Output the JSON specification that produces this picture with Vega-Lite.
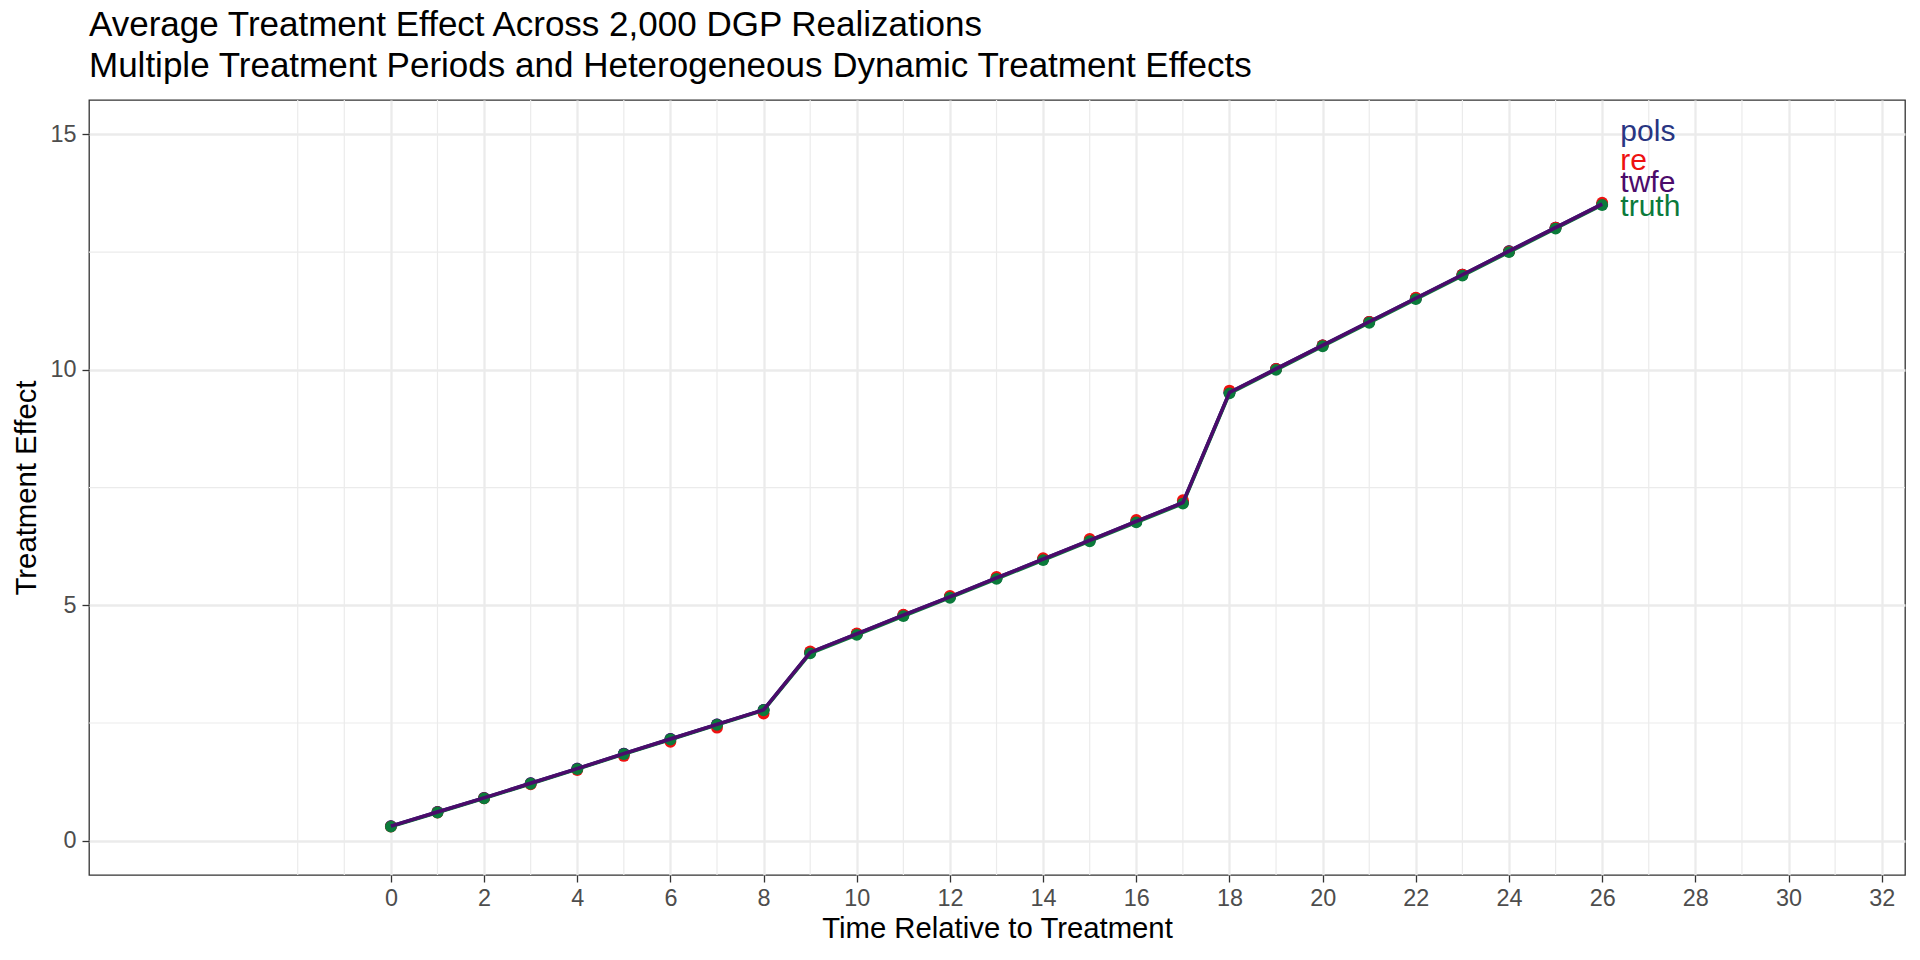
{
  "$schema": "https://vega.github.io/schema/vega-lite/v6.json",
  "width": 1816,
  "height": 775,
  "autosize": {"type": "none"},
  "padding": {"left": 89, "top": 100, "right": 15, "bottom": 85},
  "background": "white",
  "config": {
    "font": "Liberation Sans",
    "view": {"stroke": "#333333", "strokeWidth": 1.3},
    "axis": {
      "domain": false,
      "grid": true,
      "gridColor": "#ebebeb",
      "gridWidth": 2.3,
      "tickColor": "#333333",
      "tickWidth": 1.3,
      "tickSize": 7,
      "labelFont": "Liberation Sans",
      "labelFontSize": 23.4,
      "labelColor": "#4d4d4d",
      "titleFont": "Liberation Sans",
      "titleFontSize": 29.3,
      "titleFontWeight": "normal",
      "titleColor": "#000000"
    }
  },
  "title": {
    "text": ["Average Treatment Effect Across 2,000 DGP Realizations", "Multiple Treatment Periods and Heterogeneous Dynamic Treatment Effects"],
    "anchor": "start",
    "frame": "group",
    "fontSize": 35,
    "fontWeight": "normal",
    "font": "Liberation Sans",
    "color": "#000000",
    "lineHeight": 41,
    "offset": 15
  },
  "datasets": {
    "est": [
      {"t": 0, "model": "pols", "value": 0.31}, {"t": 1, "model": "pols", "value": 0.61}, {"t": 2, "model": "pols", "value": 0.91}, {"t": 3, "model": "pols", "value": 1.22}, {"t": 4, "model": "pols", "value": 1.53}, {"t": 5, "model": "pols", "value": 1.85}, {"t": 6, "model": "pols", "value": 2.16}, {"t": 7, "model": "pols", "value": 2.47}, {"t": 8, "model": "pols", "value": 2.78}, {"t": 9, "model": "pols", "value": 4.00}, {"t": 10, "model": "pols", "value": 4.39}, {"t": 11, "model": "pols", "value": 4.79}, {"t": 12, "model": "pols", "value": 5.18}, {"t": 13, "model": "pols", "value": 5.58}, {"t": 14, "model": "pols", "value": 5.98}, {"t": 15, "model": "pols", "value": 6.38}, {"t": 16, "model": "pols", "value": 6.78}, {"t": 17, "model": "pols", "value": 7.18}, {"t": 18, "model": "pols", "value": 9.52}, {"t": 19, "model": "pols", "value": 10.02}, {"t": 20, "model": "pols", "value": 10.52}, {"t": 21, "model": "pols", "value": 11.02}, {"t": 22, "model": "pols", "value": 11.52}, {"t": 23, "model": "pols", "value": 12.02}, {"t": 24, "model": "pols", "value": 12.52}, {"t": 25, "model": "pols", "value": 13.02}, {"t": 26, "model": "pols", "value": 13.52},
      {"t": 0, "model": "twfe", "value": 0.31}, {"t": 1, "model": "twfe", "value": 0.61}, {"t": 2, "model": "twfe", "value": 0.91}, {"t": 3, "model": "twfe", "value": 1.22}, {"t": 4, "model": "twfe", "value": 1.53}, {"t": 5, "model": "twfe", "value": 1.85}, {"t": 6, "model": "twfe", "value": 2.16}, {"t": 7, "model": "twfe", "value": 2.47}, {"t": 8, "model": "twfe", "value": 2.78}, {"t": 9, "model": "twfe", "value": 4.00}, {"t": 10, "model": "twfe", "value": 4.39}, {"t": 11, "model": "twfe", "value": 4.79}, {"t": 12, "model": "twfe", "value": 5.18}, {"t": 13, "model": "twfe", "value": 5.58}, {"t": 14, "model": "twfe", "value": 5.98}, {"t": 15, "model": "twfe", "value": 6.38}, {"t": 16, "model": "twfe", "value": 6.78}, {"t": 17, "model": "twfe", "value": 7.18}, {"t": 18, "model": "twfe", "value": 9.52}, {"t": 19, "model": "twfe", "value": 10.02}, {"t": 20, "model": "twfe", "value": 10.52}, {"t": 21, "model": "twfe", "value": 11.02}, {"t": 22, "model": "twfe", "value": 11.52}, {"t": 23, "model": "twfe", "value": 12.02}, {"t": 24, "model": "twfe", "value": 12.52}, {"t": 25, "model": "twfe", "value": 13.02}, {"t": 26, "model": "twfe", "value": 13.52},
      {"t": 0, "model": "re", "value": 0.30}, {"t": 1, "model": "re", "value": 0.60}, {"t": 2, "model": "re", "value": 0.90}, {"t": 3, "model": "re", "value": 1.20}, {"t": 4, "model": "re", "value": 1.50}, {"t": 5, "model": "re", "value": 1.80}, {"t": 6, "model": "re", "value": 2.10}, {"t": 7, "model": "re", "value": 2.40}, {"t": 8, "model": "re", "value": 2.70}, {"t": 9, "model": "re", "value": 4.02}, {"t": 10, "model": "re", "value": 4.40}, {"t": 11, "model": "re", "value": 4.80}, {"t": 12, "model": "re", "value": 5.20}, {"t": 13, "model": "re", "value": 5.60}, {"t": 14, "model": "re", "value": 6.00}, {"t": 15, "model": "re", "value": 6.41}, {"t": 16, "model": "re", "value": 6.81}, {"t": 17, "model": "re", "value": 7.23}, {"t": 18, "model": "re", "value": 9.56}, {"t": 19, "model": "re", "value": 10.02}, {"t": 20, "model": "re", "value": 10.52}, {"t": 21, "model": "re", "value": 11.02}, {"t": 22, "model": "re", "value": 11.53}, {"t": 23, "model": "re", "value": 12.02}, {"t": 24, "model": "re", "value": 12.51}, {"t": 25, "model": "re", "value": 13.02}, {"t": 26, "model": "re", "value": 13.55},
      {"t": 0, "model": "truth", "value": 0.30}, {"t": 1, "model": "truth", "value": 0.60}, {"t": 2, "model": "truth", "value": 0.90}, {"t": 3, "model": "truth", "value": 1.21}, {"t": 4, "model": "truth", "value": 1.52}, {"t": 5, "model": "truth", "value": 1.84}, {"t": 6, "model": "truth", "value": 2.15}, {"t": 7, "model": "truth", "value": 2.46}, {"t": 8, "model": "truth", "value": 2.77}, {"t": 9, "model": "truth", "value": 3.98}, {"t": 10, "model": "truth", "value": 4.37}, {"t": 11, "model": "truth", "value": 4.77}, {"t": 12, "model": "truth", "value": 5.16}, {"t": 13, "model": "truth", "value": 5.56}, {"t": 14, "model": "truth", "value": 5.96}, {"t": 15, "model": "truth", "value": 6.36}, {"t": 16, "model": "truth", "value": 6.76}, {"t": 17, "model": "truth", "value": 7.16}, {"t": 18, "model": "truth", "value": 9.50}, {"t": 19, "model": "truth", "value": 10.00}, {"t": 20, "model": "truth", "value": 10.50}, {"t": 21, "model": "truth", "value": 11.00}, {"t": 22, "model": "truth", "value": 11.50}, {"t": 23, "model": "truth", "value": 12.00}, {"t": 24, "model": "truth", "value": 12.50}, {"t": 25, "model": "truth", "value": 13.00}, {"t": 26, "model": "truth", "value": 13.50}
    ],
    "labels": [
      {"model": "pols", "x": 26.39, "y": 14.85},
      {"model": "re", "x": 26.39, "y": 14.25},
      {"model": "twfe", "x": 26.39, "y": 13.78},
      {"model": "truth", "x": 26.39, "y": 13.27}
    ],
    "xminor": [{"v": -2}, {"v": -1}, {"v": 1}, {"v": 3}, {"v": 5}, {"v": 7}, {"v": 9}, {"v": 11}, {"v": 13}, {"v": 15}, {"v": 17}, {"v": 19}, {"v": 21}, {"v": 23}, {"v": 25}, {"v": 27}, {"v": 29}, {"v": 31}],
    "yminor": [{"v": 2.5}, {"v": 7.5}, {"v": 12.5}]
  },
  "layer": [
    {
      "data": {"name": "xminor"},
      "mark": {"type": "rule", "color": "#ebebeb", "strokeWidth": 1.2},
      "encoding": {"x": {"field": "v", "type": "quantitative"}}
    },
    {
      "data": {"name": "yminor"},
      "mark": {"type": "rule", "color": "#ebebeb", "strokeWidth": 1.2},
      "encoding": {"y": {"field": "v", "type": "quantitative"}}
    },
    {
      "data": {"name": "est"},
      "mark": {"type": "point", "filled": true, "shape": "circle", "size": 140, "opacity": 1},
      "encoding": {
        "x": {"field": "t", "type": "quantitative"},
        "y": {"field": "value", "type": "quantitative"},
        "color": {"field": "model", "type": "nominal", "legend": null}
      }
    },
    {
      "data": {"name": "est"},
      "transform": [{"filter": "datum.model === 'pols'"}],
      "mark": {"type": "line", "strokeWidth": 3.5},
      "encoding": {
        "x": {"field": "t", "type": "quantitative"},
        "y": {"field": "value", "type": "quantitative"},
        "color": {"field": "model", "type": "nominal", "legend": null}
      }
    },
    {
      "data": {"name": "est"},
      "transform": [{"filter": "datum.model === 'truth'"}],
      "mark": {"type": "line", "strokeWidth": 3.5},
      "encoding": {
        "x": {"field": "t", "type": "quantitative"},
        "y": {"field": "value", "type": "quantitative"},
        "color": {"field": "model", "type": "nominal", "legend": null}
      }
    },
    {
      "data": {"name": "est"},
      "transform": [{"filter": "datum.model === 'twfe'"}],
      "mark": {"type": "line", "strokeWidth": 3.5},
      "encoding": {
        "x": {"field": "t", "type": "quantitative"},
        "y": {"field": "value", "type": "quantitative"},
        "color": {"field": "model", "type": "nominal", "legend": null}
      }
    },
    {
      "data": {"name": "labels"},
      "mark": {"type": "text", "align": "left", "baseline": "alphabetic", "fontSize": 30, "font": "Liberation Sans"},
      "encoding": {
        "x": {"field": "x", "type": "quantitative"},
        "y": {"field": "y", "type": "quantitative"},
        "text": {"field": "model"},
        "color": {"field": "model", "type": "nominal", "legend": null}
      }
    }
  ],
  "encoding": {
    "x": {
      "type": "quantitative",
      "scale": {"domain": [-6.48, 32.5], "nice": false, "zero": false},
      "axis": {"values": [0, 2, 4, 6, 8, 10, 12, 14, 16, 18, 20, 22, 24, 26, 28, 30, 32], "title": "Time Relative to Treatment", "labelPadding": 5, "titlePadding": 5}
    },
    "y": {
      "type": "quantitative",
      "scale": {"domain": [-0.728, 15.73], "nice": false, "zero": false},
      "axis": {"values": [0, 5, 10, 15], "title": "Treatment Effect", "labelPadding": 6, "titlePadding": 8}
    },
    "color": {
      "type": "nominal",
      "scale": {"domain": ["pols", "re", "twfe", "truth"], "range": ["#283582", "#ee1111", "#4b0b6b", "#0b7a3b"]}
    }
  }
}
